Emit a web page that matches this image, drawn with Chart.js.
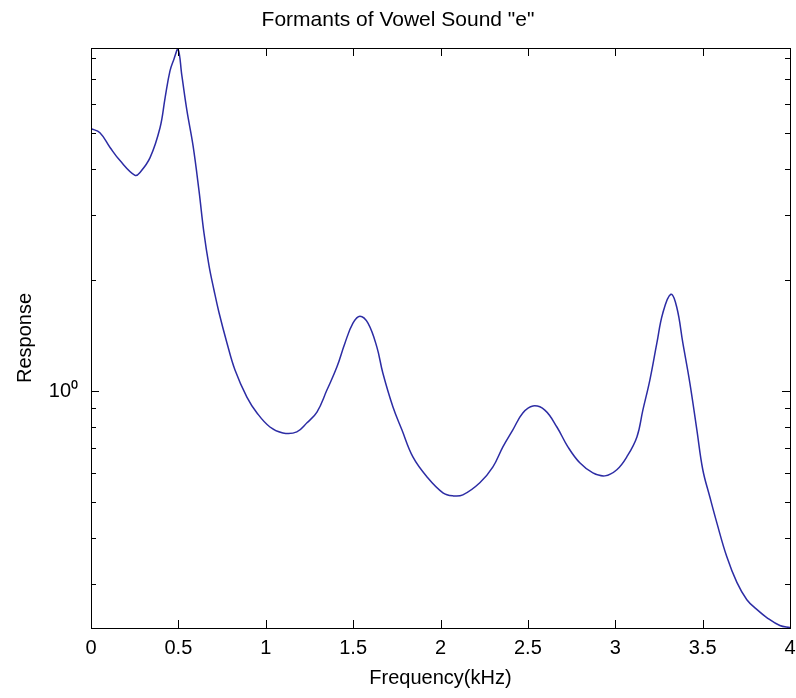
<!DOCTYPE html>
<html>
<head>
<meta charset="utf-8">
<title>Formants of Vowel Sound "e"</title>
<script src="https://cdn.jsdelivr.net/npm/chart.js@4.4.0/dist/chart.umd.min.js"></script>
<style>
  html, body { margin: 0; padding: 0; background: #fff; }
  #wrap { width: 796px; height: 698px; position: relative; }
</style>
</head>
<body>
<div id="wrap"><canvas id="formantChart"></canvas></div>
<script>
// frequency in kHz
const freq = [
  0, 0.051, 0.109, 0.166, 0.252, 0.280, 0.338, 0.395, 0.424, 0.452,
  0.475, 0.498, 0.520, 0.549, 0.584, 0.618, 0.646, 0.675, 0.704, 0.732,
  0.778, 0.824, 0.892, 0.950, 1.024, 1.098, 1.178, 1.236, 1.293, 1.350,
  1.407, 1.453, 1.499, 1.539, 1.585, 1.636, 1.670, 1.728, 1.779, 1.842,
  1.922, 2.014, 2.071, 2.128, 2.225, 2.300, 2.357, 2.414, 2.471, 2.529,
  2.597, 2.666, 2.729, 2.797, 2.872, 2.941, 3.009, 3.066, 3.124, 3.158,
  3.198, 3.238, 3.272, 3.318, 3.352, 3.387, 3.427, 3.467, 3.501, 3.541,
  3.581, 3.638, 3.696, 3.753, 3.810, 3.867, 3.942, 4.0
];

// response (log scale)
const response = [
  5.14, 5.01, 4.57, 4.21, 3.84, 3.91, 4.29, 5.17, 6.23, 7.37,
  7.94, 8.45, 7.15, 5.75, 4.62, 3.49, 2.69, 2.19, 1.875, 1.635,
  1.35, 1.14, 0.963, 0.872, 0.799, 0.770, 0.775, 0.820, 0.877, 1.006,
  1.161, 1.348, 1.527, 1.595, 1.527, 1.315, 1.119, 0.905, 0.785, 0.663,
  0.586, 0.530, 0.520, 0.523, 0.564, 0.623, 0.706, 0.785, 0.872, 0.911,
  0.888, 0.799, 0.706, 0.639, 0.600, 0.589, 0.612, 0.663, 0.751, 0.888,
  1.071, 1.348, 1.625, 1.829, 1.687, 1.348, 1.051, 0.785, 0.612, 0.517,
  0.440, 0.356, 0.303, 0.272, 0.256, 0.2434, 0.2316, 0.2288
];

// tick values
const xTicks = [0, 0.5, 1, 1.5, 2, 2.5, 3, 3.5, 4];
const yTicks = [0.3, 0.4, 0.5, 0.6, 0.7, 0.8, 0.9, 1, 2, 3, 4, 5, 6, 7, 8];

const FONT = '"Liberation Sans", Arial, sans-serif';

// matlab style box with inward tick marks on all four sides
const boxTicks = {
  id: 'boxTicks',
  afterDraw(chart) {
    const ctx = chart.ctx;
    const a = chart.chartArea;
    const xs = chart.scales.x;
    const ys = chart.scales.y;
    ctx.save();
    ctx.strokeStyle = '#000';
    ctx.lineWidth = 1;
    ctx.beginPath();
    xTicks.forEach(v => {
      const px = Math.round(xs.getPixelForValue(v)) + 0.5;
      ctx.moveTo(px, a.bottom);
      ctx.lineTo(px, a.bottom - 8);
      ctx.moveTo(px, a.top);
      ctx.lineTo(px, a.top + 8);
    });
    yTicks.forEach(v => {
      const py = Math.round(ys.getPixelForValue(v)) + 0.5;
      const len = v === 1 ? 8 : 5;
      ctx.moveTo(a.left, py);
      ctx.lineTo(a.left + len, py);
      ctx.moveTo(a.right, py);
      ctx.lineTo(a.right - len, py);
    });
    ctx.stroke();
    ctx.strokeRect(Math.round(a.left) + 0.5, Math.round(a.top) + 0.5,
      Math.round(a.right - a.left), Math.round(a.bottom - a.top));
    ctx.restore();
  }
};

const ctx = document.getElementById('formantChart').getContext('2d');
new Chart(ctx, {
  type: 'line',
  data: {
    datasets: [{
      label: 'Response',
      data: freq.map((f, i) => ({ x: f, y: response[i] })),
      borderColor: '#2c2ca4',
      borderWidth: 1.5,
      pointRadius: 0,
      fill: false,
      tension: 0.4
    }]
  },
  options: {
    responsive: true,
    maintainAspectRatio: false,
    animation: false,
    layout: { padding: 0 },
    plugins: {
      legend: { display: false },
      tooltip: { enabled: false },
      title: {
        display: true,
        text: 'Formants of Vowel Sound "e"',
        color: '#000',
        font: { family: FONT, size: 21, weight: 'normal' },
        padding: { top: 8, bottom: 14.8 }
      }
    },
    scales: {
      x: {
        type: 'linear',
        min: 0,
        max: 4,
        grid: { display: false, drawTicks: false },
        border: { display: false },
        afterBuildTicks: scale => {
          scale.ticks = xTicks.map(v => ({ value: v }));
        },
        afterFit: scale => {
          scale.height = 70;
          scale.paddingLeft = 0;
          scale.paddingRight = 6;
        },
        ticks: {
          color: '#000',
          autoSkip: false,
          maxRotation: 0,
          padding: 8,
          font: { family: FONT, size: 20 },
          callback: v => String(v)
        },
        title: {
          display: true,
          text: 'Frequency(kHz)',
          color: '#000',
          font: { family: FONT, size: 20 },
          padding: { top: 8, bottom: 8 }
        }
      },
      y: {
        type: 'logarithmic',
        min: 0.228,
        max: 8.5,
        grid: { display: false, drawTicks: false },
        border: { display: false },
        afterBuildTicks: scale => {
          scale.ticks = yTicks.map(v => ({ value: v, major: v === 1 }));
        },
        afterFit: scale => { scale.width = 91; },
        ticks: {
          color: '#000',
          autoSkip: false,
          padding: 13,
          font: { family: FONT, size: 20 },
          callback: v => (v === 1 ? '10\u2070' : '')
        },
        title: {
          display: true,
          text: 'Response',
          color: '#000',
          font: { family: FONT, size: 20 },
          padding: { top: 13, bottom: 13 }
        }
      }
    }
  },
  plugins: [boxTicks]
});
</script>
</body>
</html>
